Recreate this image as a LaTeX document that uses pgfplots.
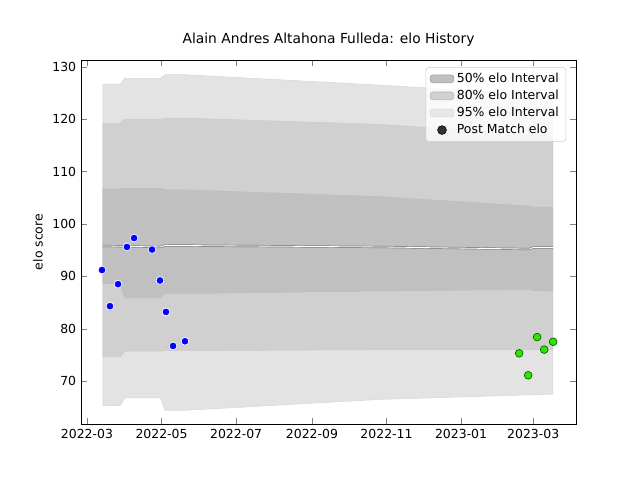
\documentclass[border=0pt]{standalone}
\usepackage{pgfplots}
\pgfplotsset{compat=1.18}
\usepackage{fontspec}
\setmainfont{DejaVu Sans}
\definecolor{b95}{HTML}{E3E3E3}
\definecolor{b80}{HTML}{D0D0D0}
\definecolor{b50}{HTML}{C0C0C0}
\begin{document}
\begin{tikzpicture}
\begin{axis}[scale only axis, width=4.95in, height=3.64in,
 xmin=-4.9, xmax=400, ymin=61.8, ymax=131.3,
 xtick={0,61,122,184,245,306,365},
 xticklabels={2022-03,2022-05,2022-07,2022-09,2022-11,2023-01,2023-03},
 ytick={70,80,...,130}, ylabel={elo score},
 tick label style={font=\small}, label style={font=\small},
 /pgf/number format/assume math mode=true,
 title={Alain Andres Altahona Fulleda: elo History}, title style={font=\normalsize},
 legend style={at={(0.98,0.98)},anchor=north east,font=\small,draw=black!20,rounded corners=2pt,fill=white,fill opacity=0.8,text opacity=1},
 legend cell align=left]
\addlegendimage{area legend,fill=black!31,draw=black!40}
\addlegendentry{50\% elo Interval}
\addlegendimage{area legend,fill=black!22,draw=black!30}
\addlegendentry{80\% elo Interval}
\addlegendimage{area legend,fill=b95,draw=black!15}
\addlegendentry{95\% elo Interval}
\addlegendimage{only marks,mark=*,mark size=3.2pt,black}
\addlegendentry{Post Match elo}
\addplot[forget plot,fill=b95,draw=black!15] coordinates {(13,126.7)(27,126.7)(31,127.8)(60,127.8)(64,128.5)(80,128.5)(240,126.5)(381,124.5)(381,67.5)(240,66.5)(80,64.4)(64,64.4)(60,66.8)(31,66.8)(27,65.3)(13,65.3)} -- cycle;
\addplot[forget plot,fill=b80,draw=black!20] coordinates {(13,119.2)(27,119.2)(31,120)(60,120)(64,120.2)(80,120.2)(240,119)(381,116.8)(381,76)(240,76)(80,75.8)(64,75.8)(60,75.7)(31,75.7)(27,74.6)(13,74.6)} -- cycle;
\addplot[forget plot,fill=b50,draw=black!25] coordinates {(13,106.7)(27,106.7)(31,106.8)(60,106.8)(64,106.5)(80,106.5)(240,105.2)(362,103.4)(365,103.2)(381,103.2)(381,87.2)(365,87.3)(362,87.5)(240,87.2)(80,86.7)(64,86.7)(60,85.9)(31,85.9)(27,88.6)(13,88.6)} -- cycle;
\addplot[forget plot,gray,line width=1.6pt] coordinates {(13,95.8)(60,95.6)(64,95.9)(240,95.6)(362,95.2)(365,95.5)(381,95.5)};
\addplot[forget plot,white,line width=0.6pt] coordinates {(13,95.8)(60,95.6)(64,95.9)(240,95.6)(362,95.2)(365,95.5)(381,95.5)};
\addplot[forget plot,only marks,mark=*,mark size=2.8pt,mark options={fill=blue,draw=white,line width=0.5pt}] coordinates {(12.3,91.2)(18.8,84.3)(25.4,88.5)(32.7,95.6)(38.5,97.3)(53.2,95.1)(59.7,89.2)(64.6,83.2)(70.4,76.7)(80.2,77.6)};
\addplot[forget plot,only marks,mark=*,mark size=2.8pt,mark options={fill=green!80!yellow!90!black,draw=green!40!black,line width=0.5pt}] coordinates {(353.5,75.3)(360.9,71.1)(368.2,78.4)(374,76)(381.3,77.5)};
\end{axis}
\path (current axis.south west)+(-0.81in,-0.56in) (current axis.north east)+(0.64in,0.60in);
\end{tikzpicture}
\end{document}
